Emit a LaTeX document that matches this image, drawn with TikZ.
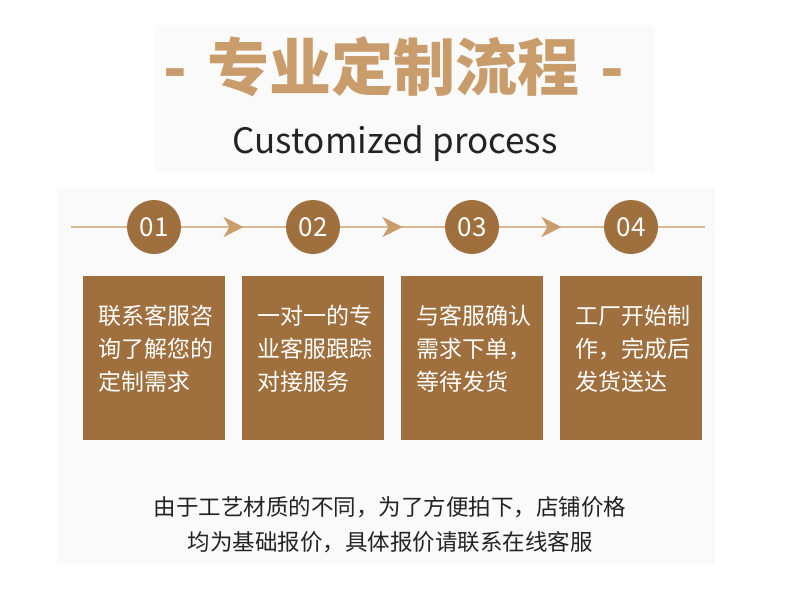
\documentclass[tikz,border=0pt]{standalone}
\usepackage{fontspec}
\setmainfont{Noto Sans CJK SC}
\usepackage{tikz}
\usetikzlibrary{arrows.meta, decorations.markings}

\definecolor{brownbox}{RGB}{159,112,61}
\definecolor{tantitle}{RGB}{201,156,108}
\definecolor{tanline}{RGB}{217,186,150}
\definecolor{tanarrow}{RGB}{203,157,106}
\definecolor{panel}{RGB}{250,250,250}
\definecolor{darktext}{RGB}{35,35,35}

\tikzset{
  stepnum/.style={circle, fill=brownbox, minimum size=54pt, inner sep=0pt, text=white, font=\fontsize{26}{30}\selectfont},
  stepbox/.style={rectangle, fill=brownbox, minimum width=142pt, minimum height=164pt, inner sep=0pt},
  boxtext/.style={text=white, align=left, text width=125pt, inner sep=0pt, font=\fontsize{23}{33}\selectfont},
  plain/.style={draw=tanline, line width=2.5pt},
  flow/.style={plain, postaction={decorate}, decoration={markings, mark=at position 0.5 with {\arrow[xshift=10pt]{Stealth[length=20pt, width=20pt, inset=6pt, color=tanarrow]}}}}
}

\begin{document}
\begin{tikzpicture}[x=1pt, y=-1pt]
\useasboundingbox (0,0) rectangle (790,592);
\fill[white] (0,0) rectangle (790,592);
\fill[panel] (155,25) rectangle (655,172);
\fill[panel] (57,187) rectangle (715,565);

% heading
\node[text=tantitle, font=\fontsize{62}{62}\selectfont\bfseries] at (394,67) (title) {-\hspace{21pt}专业定制流程\hspace{21pt}-};
\node[text=darktext, font=\fontsize{35}{40}\selectfont, anchor=base] at (395,153) (subtitle) {Customized process};

% steps
\coordinate (lstart) at (71,227);
\coordinate (lend) at (705,227);
\node[stepnum] at (154,227) (n1) {01};
\node[stepnum] at (313,227) (n2) {02};
\node[stepnum] at (472,227) (n3) {03};
\node[stepnum] at (631,227) (n4) {04};
\draw[plain] (lstart) -- (n1);
\draw[flow] (n1) -- (n2);
\draw[flow] (n2) -- (n3);
\draw[flow] (n3) -- (n4);
\draw[plain] (n4) -- (lend);

\node[stepbox] at (154,358) (b1) {};
\node[stepbox] at (313,358) (b2) {};
\node[stepbox] at (472,358) (b3) {};
\node[stepbox] at (631,358) (b4) {};
\node[boxtext, anchor=west] at ([xshift=15pt, yshift=9pt]b1.west) (t1) {联系客服咨\\询了解您的\\定制需求};
\node[boxtext, anchor=west] at ([xshift=15pt, yshift=9pt]b2.west) (t2) {一对一的专\\业客服跟踪\\对接服务};
\node[boxtext, anchor=west] at ([xshift=15pt, yshift=9pt]b3.west) (t3) {与客服确认\\需求下单，\\等待发货};
\node[boxtext, anchor=west] at ([xshift=15pt, yshift=9pt]b4.west) (t4) {工厂开始制\\作，完成后\\发货送达};

% note
\node[text=darktext, align=center, font=\fontsize{22.5}{35}\selectfont] at (390,525) (note) {由于工艺材质的不同，为了方便拍下，店铺价格\\均为基础报价，具体报价请联系在线客服};
\end{tikzpicture}
\end{document}
